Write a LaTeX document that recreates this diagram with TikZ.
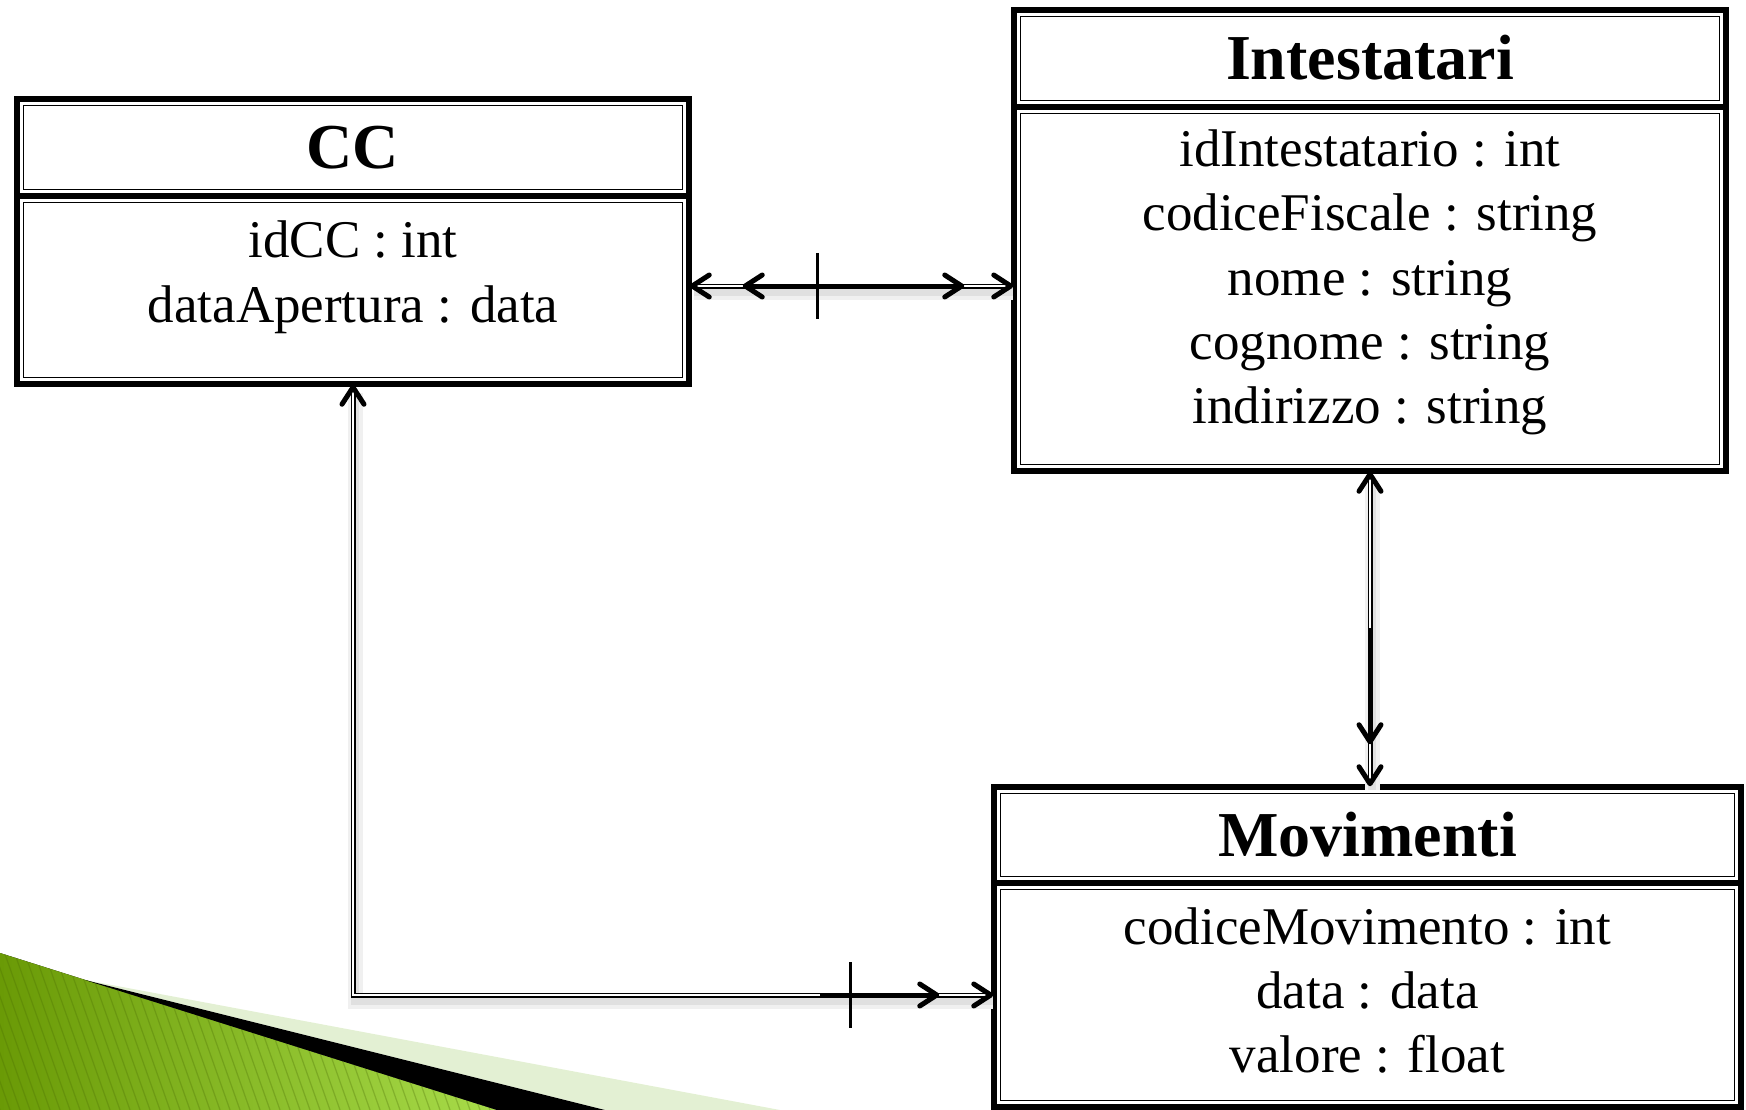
\documentclass[tikz,border=0pt]{standalone}
\usepackage{fontspec}
\setmainfont{Liberation Serif}
\usetikzlibrary{decorations.markings}
\definecolor{gdark}{HTML}{6A9A06}
\definecolor{glight}{HTML}{A8DC4A}
\definecolor{gpale}{HTML}{E3F0D3}
\begin{document}
\begin{tikzpicture}[x=1pt,y=-1pt,
  cmp/.style={draw=black, line width=6.5pt, rectangle, inner sep=0pt, fill=white},
  innerline/.style={draw=black, line width=1.4pt},
  ttl/.style={font=\fontsize{64}{72}\selectfont\bfseries, anchor=base, inner sep=0pt},
  att/.style={font=\fontsize{53}{64}\selectfont, anchor=base, inner sep=0pt},
  tipline/.style={draw=black, line width=5pt, line cap=round, line join=round},
  barline/.style={draw=black, line width=3pt},
  thickseg/.style={draw=black, line width=4.5pt},
  conn/.style={draw=black, line width=5pt,
    preaction={draw=black!6, line width=15pt, transform canvas={shift={(2pt,-6pt)}}},
    preaction={draw=black!12, line width=8pt, transform canvas={shift={(2pt,-6pt)}}},
    postaction={draw=white, line width=1.3pt}},
]
\useasboundingbox (0,0) rectangle (1746,1110);

% green decoration
\fill[gpale] (85,980) -- (780,1110) -- (605,1110) -- cycle;
\fill[left color=gdark, right color=glight] (0,953) -- (497,1110) -- (0,1110) -- cycle;
\begin{scope}
  \clip (0,953) -- (497,1110) -- (0,1110) -- cycle;
  \foreach \k in {-80,-70,...,500}
    \draw[gdark!70!black, opacity=0.3, line width=1.2pt] (\k,940) -- (\k+60,1110);
\end{scope}
\fill[black] (85,980) -- (605,1110) -- (497,1110) -- cycle;

\coordinate (hy) at (0,286);

% CC
\node[cmp, minimum width=672pt, minimum height=97pt] (cch) at (353,147.5) {};
\node[cmp, minimum width=672pt, minimum height=188pt] (ccb) at (353,290) {};
% Intestatari
\node[cmp, minimum width=712pt, minimum height=97pt] (inth) at (1370,58.5) {};
\node[cmp, minimum width=712pt, minimum height=364pt] (intb) at (1370,289) {};
% Movimenti
\node[cmp, minimum width=747pt, minimum height=96pt] (movh) at (1367.5,835) {};
\node[cmp, minimum width=747pt, minimum height=224pt] (movb) at (1367.5,995) {};

\foreach \n in {cch,ccb,inth,intb,movh,movb}
  \draw[innerline] ([xshift=9.5pt,yshift=-9.5pt]\n.north west) rectangle ([xshift=-9.5pt,yshift=9.5pt]\n.south east);

% titles
\node[ttl] (cct) at (353,168.5) {CC};
\node[ttl] (intt) at (1370,79.5) {Intestatari};
\node[ttl] (movt) at (1367.5,856) {Movimenti};

% attributes
\node[att] (cca1) at (353,258) {idCC : int};
\node[att] (cca2) at (353,322) {dataApertura : data};

\node[att] (inta1) at (1370,167) {idIntestatario : int};
\node[att] (inta2) at (1370,231) {codiceFiscale : string};
\node[att] (inta3) at (1370,295) {nome : string};
\node[att] (inta4) at (1370,359) {cognome : string};
\node[att] (inta5) at (1370,423) {indirizzo : string};

\node[att] (mova1) at (1367.5,944) {codiceMovimento : int};
\node[att] (mova2) at (1367.5,1008) {data : data};
\node[att] (mova3) at (1367.5,1072) {valore : float};

% connectors
\draw[conn, postaction={decorate, decoration={markings,
    mark=at position 0pt with {\draw[tipline] (17,11) -- (0,0) -- (17,-11);},
    mark=at position 53pt with {\draw[thickseg] (0,0) -- (217,0); \draw[tipline] (17,11) -- (0,0) -- (17,-11);},
    mark=at position 125pt with {\draw[barline] (0,-33) -- (0,33);},
    mark=at position -49pt with {\draw[tipline] (-17,11) -- (0,0) -- (-17,-11);},
    mark=at position 1 with {\draw[tipline] (-17,11) -- (0,0) -- (-17,-11);}
  }}] (ccb.east |- hy) -- (intb.west |- hy);

\draw[conn, postaction={decorate, decoration={markings,
    mark=at position 0pt with {\draw[tipline] (17,11) -- (0,0) -- (17,-11);},
    mark=at position 154pt with {\draw[thickseg] (0,0) -- (115,0);},
    mark=at position -42pt with {\draw[tipline] (-17,11) -- (0,0) -- (-17,-11);},
    mark=at position 1 with {\draw[tipline] (-17,11) -- (0,0) -- (-17,-11);}
  }}] (intb.south) -- (intb.south |- movh.north);

\draw[conn, postaction={decorate, decoration={markings,
    mark=at position 0pt with {\draw[tipline] (17,11) -- (0,0) -- (17,-11);},
    mark=at position -171pt with {\draw[thickseg] (0,0) -- (117,0);},
    mark=at position -140pt with {\draw[barline] (0,-33) -- (0,33);},
    mark=at position -54pt with {\draw[tipline] (-17,11) -- (0,0) -- (-17,-11);},
    mark=at position 1 with {\draw[tipline] (-17,11) -- (0,0) -- (-17,-11);}
  }}] (ccb.south) |- (movb.west);
\end{tikzpicture}
\end{document}
